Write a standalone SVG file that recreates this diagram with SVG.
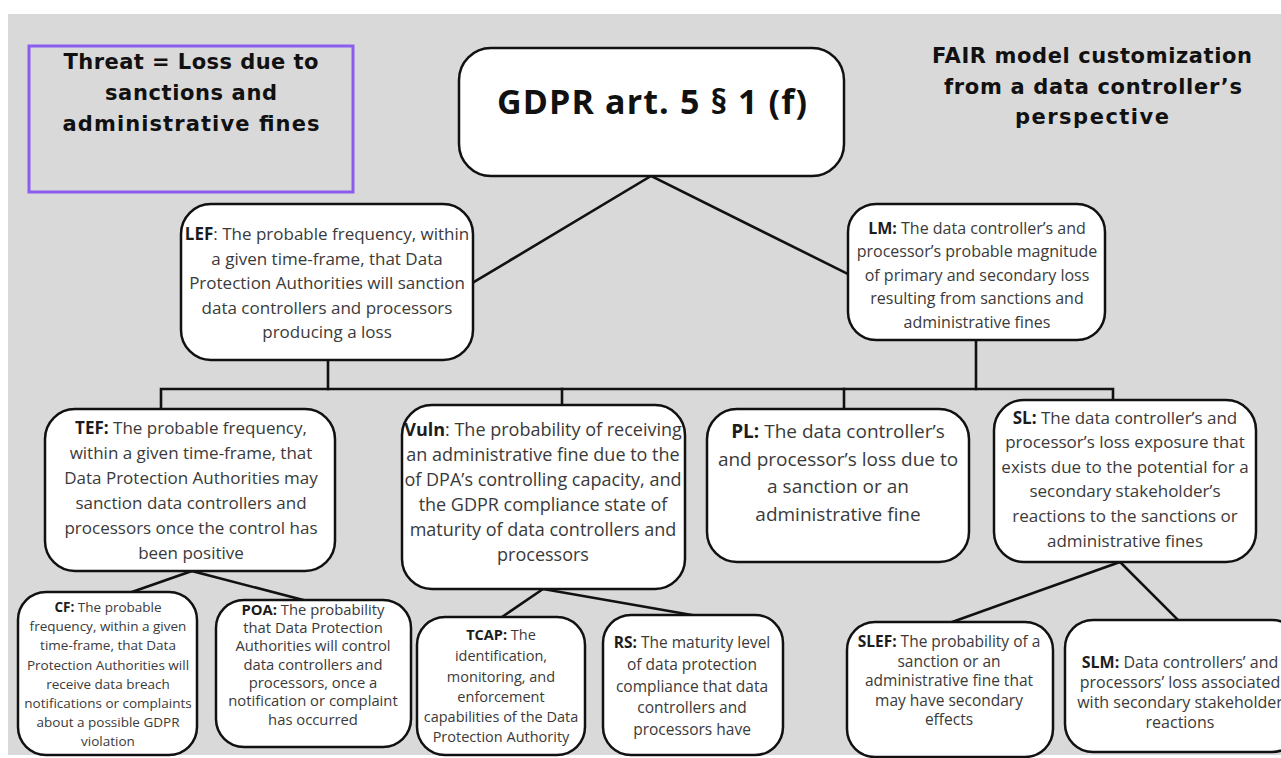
<svg xmlns="http://www.w3.org/2000/svg" width="1281" height="758" viewBox="0 0 1281 758">
<style>
.bg{fill:#d9d9d9}
.box{fill:#fff;stroke:#111;stroke-width:2.5}
.lnk{stroke:#111;stroke-width:2.6;fill:none;stroke-linecap:square}
.t{font-family:'Open Sans','Liberation Sans',sans-serif;fill:#3a3a3a;text-anchor:middle}
.b{font-weight:700;fill:#1c1c1c}
.h{font-family:'DejaVu Sans','Liberation Sans',sans-serif;font-weight:700;fill:#111;text-anchor:middle;font-size:21px}
</style>
<rect x="0" y="0" width="1281" height="758" fill="#fff"/>
<rect class="bg" x="8" y="14" width="1273" height="741"/>

<g id="connectors">
<line class="lnk" x1="651" y1="176" x2="474" y2="282"/>
<line class="lnk" x1="651" y1="176" x2="848" y2="274"/>
<polyline class="lnk" points="328,360 328,389"/>
<polyline class="lnk" points="976,340 976,389"/>
<polyline class="lnk" points="161,410 161,389 1113,389 1113,400"/>
<line class="lnk" x1="562" y1="389" x2="562" y2="405"/>
<line class="lnk" x1="844" y1="389" x2="844" y2="409"/>
<line class="lnk" x1="192" y1="571" x2="126" y2="594"/>
<line class="lnk" x1="192" y1="571" x2="303" y2="600"/>
<line class="lnk" x1="543" y1="589" x2="502" y2="617"/>
<line class="lnk" x1="543" y1="589" x2="692" y2="615"/>
<line class="lnk" x1="1120" y1="562" x2="952" y2="622"/>
<line class="lnk" x1="1120" y1="562" x2="1178" y2="620"/>
</g>

<g id="threat">
<rect x="29" y="46" width="324" height="146" fill="none" stroke="#8b5cf0" stroke-width="3"/>
<text class="h"><tspan x="191" y="69" textLength="255">Threat = Loss due to</tspan><tspan x="191" y="100" textLength="172">sanctions and</tspan><tspan x="191" y="131" textLength="257">administrative fines</tspan></text>
</g>

<g id="title">
<text class="h"><tspan x="1092" y="63" textLength="320">FAIR model customization</tspan><tspan x="1093" y="94" textLength="298">from a data controller’s</tspan><tspan x="1092" y="124" textLength="154">perspective</tspan></text>
</g>

<g id="gdpr">
<rect class="box" x="459" y="48" width="385" height="128" rx="32"/>
<text class="t" x="652" y="114" style="font-size:34px;font-weight:700;fill:#111" textLength="310">GDPR art. 5 § 1 (f)</text>
</g>

<g id="lef">
<rect class="box" x="181" y="204" width="292" height="156" rx="30"/>
<text class="t" style="font-size:17px"><tspan x="327" y="240"><tspan class="b">LEF</tspan>: The probable frequency, within</tspan><tspan x="327" y="264.5">a given time-frame, that Data</tspan><tspan x="327" y="289">Protection Authorities will sanction</tspan><tspan x="327" y="313.5">data controllers and processors</tspan><tspan x="327" y="338">producing a loss</tspan></text>
</g>

<g id="lm">
<rect class="box" x="848" y="204" width="257" height="136" rx="28"/>
<text class="t" style="font-size:16px"><tspan x="977" y="234"><tspan class="b">LM:</tspan> The data controller’s and</tspan><tspan x="977" y="257">processor’s probable magnitude</tspan><tspan x="977" y="281">of primary and secondary loss</tspan><tspan x="977" y="304">resulting from sanctions and</tspan><tspan x="977" y="328">administrative fines</tspan></text>
</g>

<g id="tef">
<rect class="box" x="45" y="409" width="290" height="162" rx="30"/>
<text class="t" style="font-size:17px"><tspan x="191" y="434"><tspan class="b">TEF:</tspan> The probable frequency,</tspan><tspan x="191" y="459">within a given time-frame, that</tspan><tspan x="191" y="484">Data Protection Authorities may</tspan><tspan x="191" y="509">sanction data controllers and</tspan><tspan x="191" y="534">processors once the control has</tspan><tspan x="191" y="559">been positive</tspan></text>
</g>

<g id="vuln">
<rect class="box" x="402" y="405" width="283" height="184" rx="30"/>
<text class="t" style="font-size:18px"><tspan x="543" y="436"><tspan class="b">Vuln</tspan>: The probability of receiving</tspan><tspan x="543" y="461">an administrative fine due to the</tspan><tspan x="543" y="486">of DPA’s controlling capacity, and</tspan><tspan x="543" y="511">the GDPR compliance state of</tspan><tspan x="543" y="536">maturity of data controllers and</tspan><tspan x="543" y="561">processors</tspan></text>
</g>

<g id="pl">
<rect class="box" x="707" y="409" width="262" height="153" rx="30"/>
<text class="t" style="font-size:19px"><tspan x="838" y="438"><tspan class="b">PL:</tspan> The data controller’s</tspan><tspan x="838" y="466">and processor’s loss due to</tspan><tspan x="838" y="493">a sanction or an</tspan><tspan x="838" y="521">administrative fine</tspan></text>
</g>

<g id="sl">
<rect class="box" x="994" y="400" width="262" height="162" rx="30"/>
<text class="t" style="font-size:17px"><tspan x="1125" y="424"><tspan class="b">SL:</tspan> The data controller’s and</tspan><tspan x="1125" y="448">processor’s loss exposure that</tspan><tspan x="1125" y="473">exists due to the potential for a</tspan><tspan x="1125" y="497">secondary stakeholder’s</tspan><tspan x="1125" y="522">reactions to the sanctions or</tspan><tspan x="1125" y="547">administrative fines</tspan></text>
</g>

<g id="cf">
<rect class="box" x="18" y="592" width="179" height="163" rx="28"/>
<text class="t" style="font-size:13.5px"><tspan x="108" y="612"><tspan class="b">CF:</tspan> The probable</tspan><tspan x="108" y="631">frequency, within a given</tspan><tspan x="108" y="650">time-frame, that Data</tspan><tspan x="108" y="669.5">Protection Authorities will</tspan><tspan x="108" y="688.5">receive data breach</tspan><tspan x="108" y="707.5">notifications or complaints</tspan><tspan x="108" y="727">about a possible GDPR</tspan><tspan x="108" y="746">violation</tspan></text>
</g>

<g id="poa">
<rect class="box" x="216" y="600" width="195" height="147" rx="28"/>
<text class="t" style="font-size:14.8px"><tspan x="313" y="615"><tspan class="b">POA:</tspan> The probability</tspan><tspan x="313" y="633">that Data Protection</tspan><tspan x="313" y="651">Authorities will control</tspan><tspan x="313" y="670">data controllers and</tspan><tspan x="313" y="688">processors, once a</tspan><tspan x="313" y="706">notification or complaint</tspan><tspan x="313" y="725">has occurred</tspan></text>
</g>

<g id="tcap">
<rect class="box" x="417" y="617" width="168" height="138" rx="28"/>
<text class="t" style="font-size:14.5px"><tspan x="501" y="640"><tspan class="b">TCAP:</tspan> The</tspan><tspan x="501" y="661">identification,</tspan><tspan x="501" y="682">monitoring, and</tspan><tspan x="501" y="702">enforcement</tspan><tspan x="501" y="722">capabilities of the Data</tspan><tspan x="501" y="742">Protection Authority</tspan></text>
</g>

<g id="rs">
<rect class="box" x="603" y="615" width="180" height="140" rx="28"/>
<text class="t" style="font-size:15.5px"><tspan x="692" y="648"><tspan class="b">RS:</tspan> The maturity level</tspan><tspan x="692" y="670">of data protection</tspan><tspan x="692" y="692">compliance that data</tspan><tspan x="692" y="713">controllers and</tspan><tspan x="692" y="735">processors have</tspan></text>
</g>

<g id="slef">
<rect class="box" x="847" y="622" width="206" height="135" rx="28"/>
<text class="t" style="font-size:15.5px"><tspan x="949" y="647"><tspan class="b">SLEF:</tspan> The probability of a</tspan><tspan x="949" y="666.5">sanction or an</tspan><tspan x="949" y="686">administrative fine that</tspan><tspan x="949" y="705.5">may have secondary</tspan><tspan x="949" y="725">effects</tspan></text>
</g>

<g id="slm">
<rect class="box" x="1065" y="620" width="235" height="132" rx="28"/>
<text class="t" style="font-size:16px"><tspan x="1180" y="668"><tspan class="b">SLM:</tspan> Data controllers’ and</tspan><tspan x="1180" y="688">processors’ loss associated</tspan><tspan x="1180" y="708">with secondary stakeholder</tspan><tspan x="1180" y="728">reactions</tspan></text>
</g>
</svg>
